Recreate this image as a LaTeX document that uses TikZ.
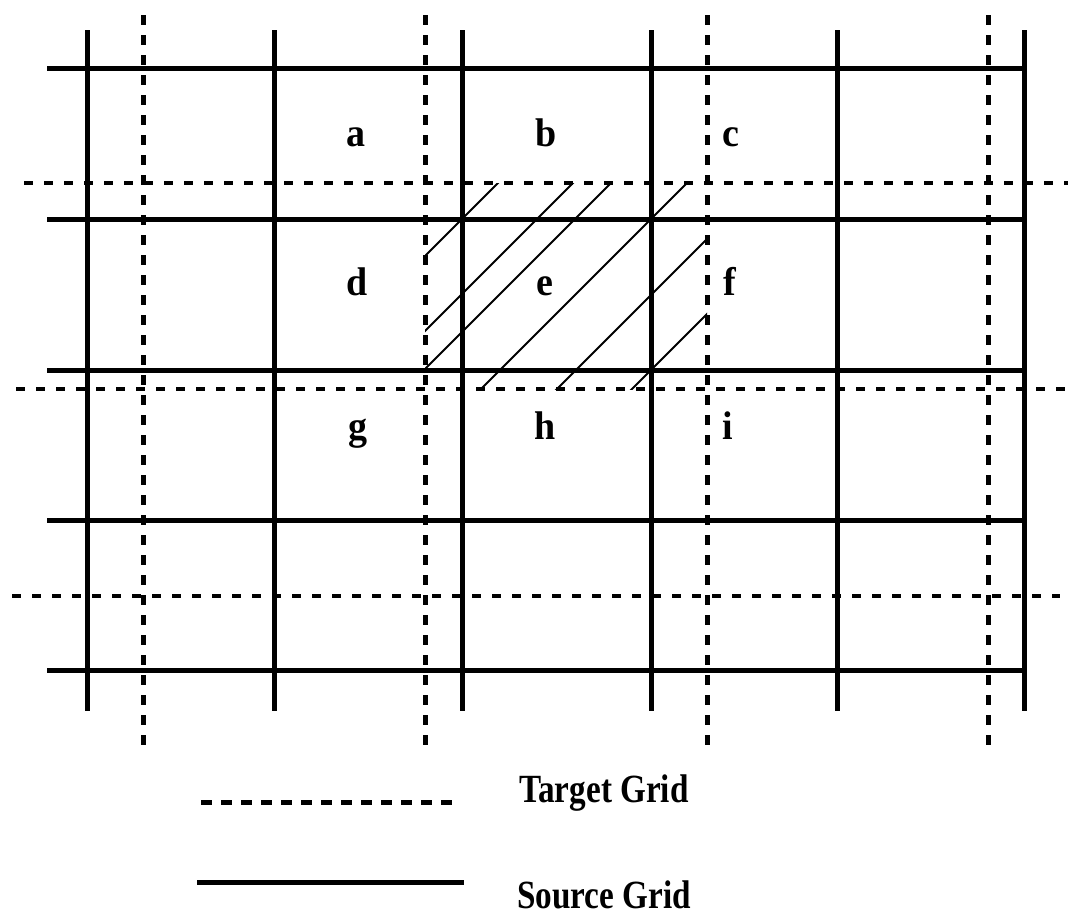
\documentclass[tikz,border=0pt]{standalone}
\usepackage{graphicx}
\usepackage{fontspec}
\setmainfont{Liberation Serif}
\begin{document}
\begin{tikzpicture}[x=1pt,y=-1pt,
  src/.style={line width=5pt},
  tgtv/.style={line width=5pt,dash pattern=on 10pt off 10pt},
  tgth/.style={line width=3.4pt,dash pattern=on 9pt off 11pt},
  hatch/.style={line width=1.8pt},
  lab/.style={anchor=base,inner sep=0pt,font=\fontsize{40}{44}\selectfont\bfseries},
  leg/.style={anchor=base west,inner sep=0pt,font=\fontsize{40}{44}\selectfont\bfseries}]
\useasboundingbox (0,0) rectangle (1069,916);
% hatching of the target cell
\begin{scope}
  \clip (425,183) rectangle (707,389);
  \foreach \c in {681,756,794,870,946,1021}
    \draw[hatch] (\c-400,400) -- (\c-160,160);
\end{scope}
% source grid
\foreach \x in {87,274,462,651,837,1024}
  \draw[src] (\x,30) -- (\x,711);
\foreach \y in {68,219,370,520,670}
  \draw[src] (47,\y) -- (1024,\y);
% target grid
\foreach \x in {143,425,707,988}
  \draw[tgtv] (\x,15) -- (\x,748);
\draw[tgth] (24,183) -- (1068,183);
\draw[tgth] (16,389) -- (1066,389);
\draw[tgth] (12,596) -- (1060,596);
% labels
\node[lab] (la) at (356,146) {\scalebox{0.95}[1]{a}};
\node[lab] (lb) at (546,146) {\scalebox{0.95}[1]{b}};
\node[lab] (lc) at (731,146) {\scalebox{0.95}[1]{c}};
\node[lab] (ld) at (357,295) {\scalebox{0.95}[1]{d}};
\node[lab] (le) at (545,295) {\scalebox{0.95}[1]{e}};
\node[lab] (lf) at (730,295) {\scalebox{0.95}[1]{f}};
\node[lab] (lg) at (358,439) {\scalebox{0.95}[1]{g}};
\node[lab] (lh) at (545,439) {\scalebox{0.95}[1]{h}};
\node[lab] (li) at (728,439) {\scalebox{0.95}[1]{i}};
% legend
\coordinate (d1) at (201,802);
\coordinate (d2) at (453,802);
\draw[line width=5pt,dash pattern=on 11pt off 9pt] (d1) -- (d2);
\coordinate (s1) at (197,882);
\coordinate (s2) at (464,882);
\draw[line width=5pt] (s1) -- (s2);
\node[leg] (tg) at (519,802) {\scalebox{0.83}[1]{Target Grid}};
\node[leg] (sg) at (517,908) {\scalebox{0.83}[1]{Source Grid}};
\end{tikzpicture}
\end{document}
